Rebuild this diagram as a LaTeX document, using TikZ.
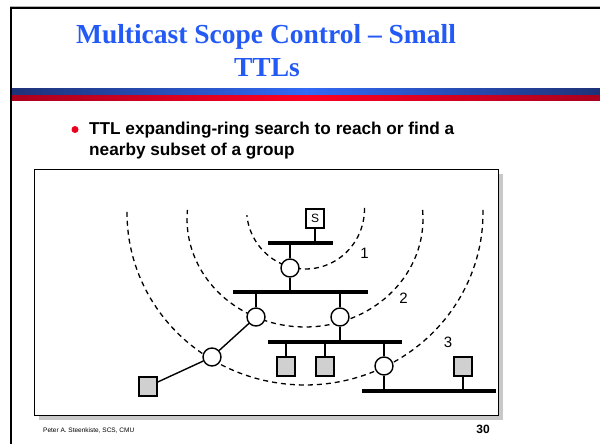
\documentclass[tikz,border=0pt]{standalone}
\usepackage{fontspec}
\setmainfont{Liberation Serif}
\setsansfont{Liberation Sans}
\definecolor{titleblue}{RGB}{35,90,245}
\definecolor{navyb}{RGB}{30,50,120}
\definecolor{brightb}{RGB}{50,105,245}
\definecolor{darkr}{RGB}{170,0,30}
\definecolor{brightr}{RGB}{255,0,35}
\definecolor{bulletred}{RGB}{235,0,30}
\definecolor{hostgray}{RGB}{208,208,208}
\definecolor{shadowgray}{RGB}{200,200,200}
\begin{document}
\begin{tikzpicture}[x=1pt,y=-1pt,
  router/.style={circle,draw,fill=white,line width=1.4pt,minimum size=18pt,inner sep=0pt},
  host/.style={rectangle,draw,fill=hostgray,line width=1.4pt,minimum width=18pt,minimum height=19pt,inner sep=0pt},
  src/.style={rectangle,draw,fill=white,line width=1.1pt,minimum width=18pt,minimum height=19pt,inner sep=0pt,font=\sffamily\fontsize{12}{12}\selectfont},
  bus/.style={line width=3.5pt},
  link/.style={line width=1.4pt},
  ring/.style={line width=1.3pt,dash pattern=on 5pt off 4pt},
  lbl/.style={font=\sffamily\fontsize{15}{15}\selectfont,inner sep=0pt}]
\useasboundingbox (0,0) rectangle (600,444);
\fill[white] (0,0) rectangle (600,444);
% slide frame
\draw[gray!60,line width=1pt] (10,6.5) -- (600,6.5);
\draw[black,line width=2pt] (11,460) -- (11,8) -- (601,8);
% header bars
\shade[left color=navyb,right color=navyb,middle color=brightb] (12,89) rectangle (600,95);
\shade[left color=darkr,right color=darkr,middle color=brightr] (12,96) rectangle (600,100.5);
% title
\node[font=\bfseries\fontsize{27.5}{33}\selectfont,text=titleblue,anchor=base,inner sep=0pt] (t1) at (266,44) {Multicast Scope Control – Small};
\node[font=\bfseries\fontsize{27.5}{33}\selectfont,text=titleblue,anchor=base,inner sep=0pt] (t2) at (267,77) {TTLs};
% bullet
\node[circle,fill=bulletred,minimum size=7pt,inner sep=0pt] (bul) at (75,129.5) {};
\node[font=\sffamily\bfseries\fontsize{17.2}{21}\selectfont,anchor=base west,inner sep=0pt] (b1) at (89,134) {TTL expanding-ring search to reach or find a};
\node[font=\sffamily\bfseries\fontsize{17.2}{21}\selectfont,anchor=base west,inner sep=0pt] (b2) at (89,155) {nearby subset of a group};
% diagram box
\fill[shadowgray] (39,174) rectangle (503,420);
\draw[fill=white,line width=1pt] (34,169) rectangle (498,415);
% footer
\node[font=\sffamily\fontsize{6.5}{7}\selectfont,anchor=base west,inner sep=0pt] (foot) at (43,432.5) {Peter A. Steenkiste, SCS, CMU};
\node[font=\sffamily\bfseries\fontsize{12}{13}\selectfont,anchor=base east,inner sep=0pt] (pg) at (490,433.5) {30};
% rings
\draw[ring] plot[domain=-1:174,samples=50] ({305.5+59*cos(\x)},{209+60*sin(\x)});
\draw[ring] plot[domain=-4.8:184.8,samples=70] ({305+118*cos(\x)},{219+108*sin(\x)});
\draw[ring] plot[domain=-1:181,samples=90] ({305+178*cos(\x)},{213+172*sin(\x)});
\node[lbl] (l1) at (364.5,253.5) {1};
\node[lbl] (l2) at (403.5,298) {2};
\node[lbl] (l3) at (448,342) {3};
% bus coordinates
\coordinate (b1w) at (268,243); \coordinate (b1e) at (333,243);
\coordinate (b2w) at (233,292); \coordinate (b2e) at (368,292);
\coordinate (b3w) at (268,342); \coordinate (b3e) at (402,342);
\coordinate (b4w) at (362,391); \coordinate (b4e) at (496,391);
% nodes
\node[src] (S) at (315,218.5) {S};
\node[router] (R1) at (290,268) {};
\node[router] (R2a) at (256,317) {};
\node[router] (R2b) at (340,317) {};
\node[router] (R3) at (384,366) {};
\node[router] (R4) at (212,357) {};
\node[host] (H1) at (286,366.5) {};
\node[host] (H2) at (325,366.5) {};
\node[host] (H3) at (463,366.5) {};
\node[host] (H4) at (148,386.5) {};
% links
\draw[link] (S) -- (S |- b1w);
\draw[link] (R1 |- b1w) -- (R1);
\draw[link] (R1) -- (R1 |- b2w);
\draw[link] (R2a |- b2w) -- (R2a);
\draw[link] (R2b |- b2w) -- (R2b);
\draw[link] (R2b) -- (R2b |- b3w);
\draw[link] (H1 |- b3w) -- (H1);
\draw[link] (H2 |- b3w) -- (H2);
\draw[link] (R3 |- b3w) -- (R3);
\draw[link] (R3) -- (R3 |- b4w);
\draw[link] (H3) -- (H3 |- b4w);
\draw[link] (R2a) -- (R4) -- (H4);
% buses
\draw[bus] (b1w) -- (b1e);
\draw[bus] (b2w) -- (b2e);
\draw[bus] (b3w) -- (b3e);
\draw[bus] (b4w) -- (b4e);
\end{tikzpicture}
\end{document}
